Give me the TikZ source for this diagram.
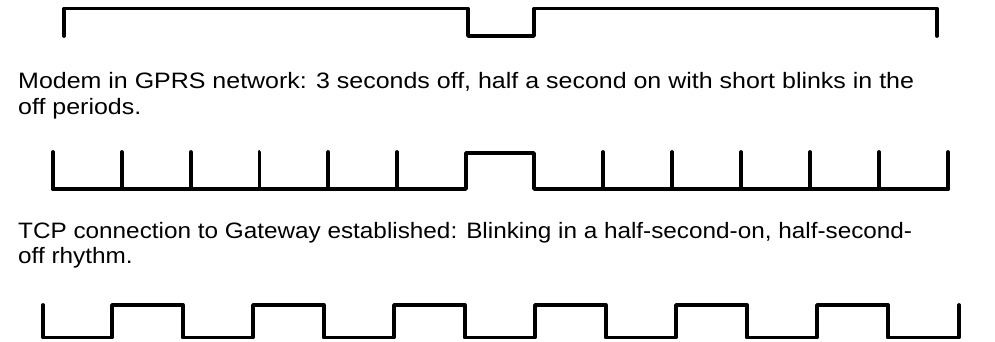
\documentclass[tikz,border=0pt]{standalone}
\usepackage{fontspec}
\setmainfont{Liberation Sans}[FakeStretch=1.12]
\newfontfamily\narrowfont{Liberation Sans}[FakeStretch=1.09]
\begin{document}
\begin{tikzpicture}[x=1pt,y=-1pt,
  wave/.style={line width=3.8pt,line cap=round,line join=round,black},
  label/.style={anchor=base west,inner sep=0pt,font=\fontsize{22.3}{25}\selectfont},
  label2/.style={anchor=base west,inner sep=0pt,font=\narrowfont\fontsize{22.3}{25}\selectfont}]
\useasboundingbox (0,0) rectangle (995,342);
% waveform 1
\draw[wave] (64,36) -- (64,8.5) -- (468,8.5) -- (468,36) -- (534,36) -- (534,8.5) -- (937,8.5) -- (937,36);
\node[label] (t1a) at (18,89) {Modem in GPRS network: 3 seconds off, half a second on with short blinks in the};
\node[label] (t1b) at (18,114) {off periods.};
% waveform 2
\draw[wave] (53,189) -- (466,189) -- (466,153) -- (534,153) -- (534,189) -- (948,189);
\foreach \x in {53,121.8,190.6,259.4,328.2,397} \draw[wave] (\x,189) -- (\x,152);
\foreach \x in {603,672,741,810,879,948} \draw[wave] (\x,189) -- (\x,152);
\node[label2] (t2a) at (18,238) {TCP connection to Gateway established: Blinking in a half-second-on, half-second-};
\node[label2] (t2b) at (18,263) {off rhythm.};
% waveform 3
\draw[wave] (43,305) -- (43,337.5)
  \foreach \r in {112,253,394,535,676,817} {
    -- (\r,337.5) -- (\r,305) -- ({\r+70.8},305) -- ({\r+70.8},337.5)
  } -- (959,337.5) -- (959,305);
\end{tikzpicture}
\end{document}
